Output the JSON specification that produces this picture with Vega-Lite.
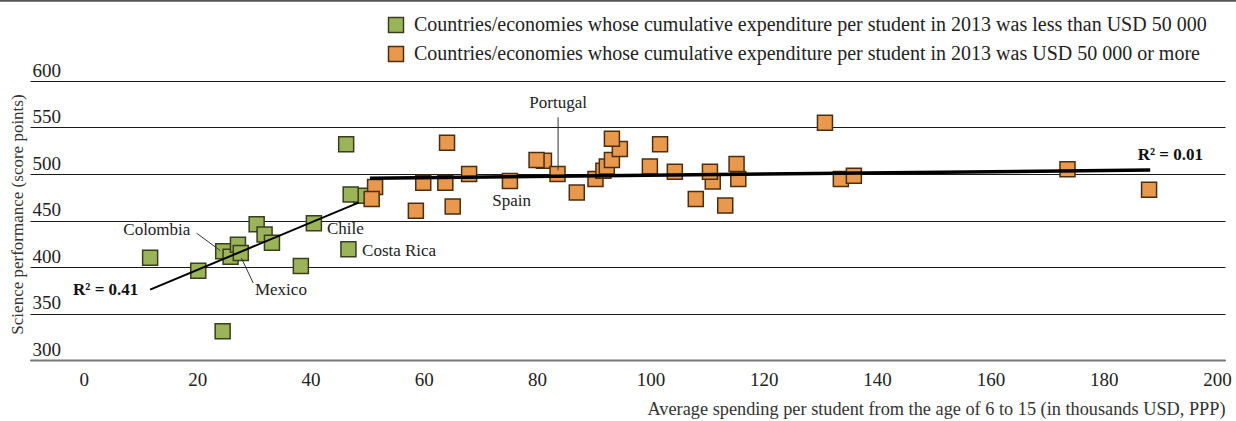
{
  "$schema": "https://vega.github.io/schema/vega-lite/v6.json",
  "width": 1195,
  "height": 279,
  "autosize": {"type": "none"},
  "padding": {"left": 30, "top": 81, "right": 11, "bottom": 61},
  "background": "white",
  "config": {
    "font": "Liberation Serif",
    "view": {"stroke": null}
  },
  "datasets": {
    "points": [
      {"spend": 11.7, "score": 410, "group": "Countries/economies whose cumulative expenditure per student in 2013 was less than USD 50 000"},
      {"spend": 20.2, "score": 396, "group": "Countries/economies whose cumulative expenditure per student in 2013 was less than USD 50 000"},
      {"spend": 24.5, "score": 331, "group": "Countries/economies whose cumulative expenditure per student in 2013 was less than USD 50 000"},
      {"spend": 24.6, "score": 417, "group": "Countries/economies whose cumulative expenditure per student in 2013 was less than USD 50 000"},
      {"spend": 25.9, "score": 411, "group": "Countries/economies whose cumulative expenditure per student in 2013 was less than USD 50 000"},
      {"spend": 27.2, "score": 424, "group": "Countries/economies whose cumulative expenditure per student in 2013 was less than USD 50 000"},
      {"spend": 27.7, "score": 415, "group": "Countries/economies whose cumulative expenditure per student in 2013 was less than USD 50 000"},
      {"spend": 30.5, "score": 446, "group": "Countries/economies whose cumulative expenditure per student in 2013 was less than USD 50 000"},
      {"spend": 31.9, "score": 435, "group": "Countries/economies whose cumulative expenditure per student in 2013 was less than USD 50 000"},
      {"spend": 33.2, "score": 426, "group": "Countries/economies whose cumulative expenditure per student in 2013 was less than USD 50 000"},
      {"spend": 38.3, "score": 401, "group": "Countries/economies whose cumulative expenditure per student in 2013 was less than USD 50 000"},
      {"spend": 40.6, "score": 447, "group": "Countries/economies whose cumulative expenditure per student in 2013 was less than USD 50 000"},
      {"spend": 46.3, "score": 532, "group": "Countries/economies whose cumulative expenditure per student in 2013 was less than USD 50 000"},
      {"spend": 46.7, "score": 419, "group": "Countries/economies whose cumulative expenditure per student in 2013 was less than USD 50 000"},
      {"spend": 49.0, "score": 476.5, "group": "Countries/economies whose cumulative expenditure per student in 2013 was less than USD 50 000"},
      {"spend": 47.1, "score": 478, "group": "Countries/economies whose cumulative expenditure per student in 2013 was less than USD 50 000"},
      {"spend": 51.4, "score": 486, "group": "Countries/economies whose cumulative expenditure per student in 2013 was USD 50 000 or more"},
      {"spend": 50.8, "score": 473, "group": "Countries/economies whose cumulative expenditure per student in 2013 was USD 50 000 or more"},
      {"spend": 64.1, "score": 533.5, "group": "Countries/economies whose cumulative expenditure per student in 2013 was USD 50 000 or more"},
      {"spend": 59.9, "score": 490.5, "group": "Countries/economies whose cumulative expenditure per student in 2013 was USD 50 000 or more"},
      {"spend": 63.8, "score": 490.5, "group": "Countries/economies whose cumulative expenditure per student in 2013 was USD 50 000 or more"},
      {"spend": 58.6, "score": 460.5, "group": "Countries/economies whose cumulative expenditure per student in 2013 was USD 50 000 or more"},
      {"spend": 65.1, "score": 465, "group": "Countries/economies whose cumulative expenditure per student in 2013 was USD 50 000 or more"},
      {"spend": 68.0, "score": 500, "group": "Countries/economies whose cumulative expenditure per student in 2013 was USD 50 000 or more"},
      {"spend": 75.2, "score": 492.5, "group": "Countries/economies whose cumulative expenditure per student in 2013 was USD 50 000 or more"},
      {"spend": 81.2, "score": 514.3, "group": "Countries/economies whose cumulative expenditure per student in 2013 was USD 50 000 or more"},
      {"spend": 79.9, "score": 515, "group": "Countries/economies whose cumulative expenditure per student in 2013 was USD 50 000 or more"},
      {"spend": 83.6, "score": 500, "group": "Countries/economies whose cumulative expenditure per student in 2013 was USD 50 000 or more"},
      {"spend": 87.0, "score": 480, "group": "Countries/economies whose cumulative expenditure per student in 2013 was USD 50 000 or more"},
      {"spend": 90.3, "score": 494.7, "group": "Countries/economies whose cumulative expenditure per student in 2013 was USD 50 000 or more"},
      {"spend": 91.7, "score": 503.5, "group": "Countries/economies whose cumulative expenditure per student in 2013 was USD 50 000 or more"},
      {"spend": 92.3, "score": 508, "group": "Countries/economies whose cumulative expenditure per student in 2013 was USD 50 000 or more"},
      {"spend": 93.2, "score": 515, "group": "Countries/economies whose cumulative expenditure per student in 2013 was USD 50 000 or more"},
      {"spend": 94.6, "score": 527, "group": "Countries/economies whose cumulative expenditure per student in 2013 was USD 50 000 or more"},
      {"spend": 93.2, "score": 538, "group": "Countries/economies whose cumulative expenditure per student in 2013 was USD 50 000 or more"},
      {"spend": 101.7, "score": 532, "group": "Countries/economies whose cumulative expenditure per student in 2013 was USD 50 000 or more"},
      {"spend": 99.9, "score": 508, "group": "Countries/economies whose cumulative expenditure per student in 2013 was USD 50 000 or more"},
      {"spend": 104.3, "score": 502.5, "group": "Countries/economies whose cumulative expenditure per student in 2013 was USD 50 000 or more"},
      {"spend": 108.0, "score": 473, "group": "Countries/economies whose cumulative expenditure per student in 2013 was USD 50 000 or more"},
      {"spend": 111.0, "score": 492, "group": "Countries/economies whose cumulative expenditure per student in 2013 was USD 50 000 or more"},
      {"spend": 110.5, "score": 502.5, "group": "Countries/economies whose cumulative expenditure per student in 2013 was USD 50 000 or more"},
      {"spend": 113.2, "score": 466, "group": "Countries/economies whose cumulative expenditure per student in 2013 was USD 50 000 or more"},
      {"spend": 115.5, "score": 494.7, "group": "Countries/economies whose cumulative expenditure per student in 2013 was USD 50 000 or more"},
      {"spend": 115.2, "score": 510.7, "group": "Countries/economies whose cumulative expenditure per student in 2013 was USD 50 000 or more"},
      {"spend": 130.8, "score": 555, "group": "Countries/economies whose cumulative expenditure per student in 2013 was USD 50 000 or more"},
      {"spend": 133.6, "score": 494.7, "group": "Countries/economies whose cumulative expenditure per student in 2013 was USD 50 000 or more"},
      {"spend": 135.9, "score": 498, "group": "Countries/economies whose cumulative expenditure per student in 2013 was USD 50 000 or more"},
      {"spend": 173.6, "score": 505, "group": "Countries/economies whose cumulative expenditure per student in 2013 was USD 50 000 or more"},
      {"spend": 188.0, "score": 483, "group": "Countries/economies whose cumulative expenditure per student in 2013 was USD 50 000 or more"}
    ],
    "trends": [
      {"line": "low", "spend": 11.7, "score": 375.7},
      {"line": "low", "spend": 48.5, "score": 469.3},
      {"line": "high", "spend": 50.5, "score": 495.4},
      {"line": "high", "spend": 188.2, "score": 504.3}
    ],
    "leaders": [
      {"x": 83.7, "y": 561, "x2": 83.7, "y2": 504},
      {"x": 19.9, "y": 436.4, "x2": 24.1, "y2": 417.5},
      {"x": 29.9, "y": 382.8, "x2": 27.8, "y2": 409.6}
    ],
    "labelsCenter": [
      {"x": 83.7, "y": 576, "text": "Portugal"},
      {"x": 75.5, "y": 471, "text": "Spain"}
    ],
    "labelsRight": [
      {"x": 18.8, "y": 439.3, "text": "Colombia"}
    ],
    "labelsLeft": [
      {"x": 42.9, "y": 440.7, "text": "Chile"},
      {"x": 49.1, "y": 417.5, "text": "Costa Rica"},
      {"x": 30.2, "y": 375.6, "text": "Mexico"}
    ],
    "r2": [
      {"x": -1.9, "y": 375.6, "text": "R² = 0.41"},
      {"x": 186.0, "y": 520.4, "text": "R² = 0.01"}
    ],
    "frame": [
      {"x": -14.8, "x2": 203.4, "y": 686.5}
    ]
  },
  "layer": [
    {
      "data": {"name": "points"},
      "mark": {"type": "square", "size": 225, "strokeWidth": 1.5, "opacity": 1},
      "encoding": {
        "x": {
          "field": "spend", "type": "quantitative",
          "scale": {"domain": [-9.5, 201.4], "nice": false, "zero": false},
          "axis": {
            "values": [0, 20, 40, 60, 80, 100, 120, 140, 160, 180, 200],
            "title": "Average spending per student from the age of 6 to 15 (in thousands USD,  PPP)",
            "titleFont": "Liberation Serif", "titleFontSize": 18.3, "titleFontWeight": "normal",
            "titleColor": "#333333", "titleAnchor": "end", "titlePadding": 11,
            "labelFont": "Liberation Serif", "labelFontSize": 19, "labelColor": "#222222",
            "labelPadding": 10, "ticks": false, "grid": false,
            "domain": true, "domainColor": "#777777", "domainWidth": 2
          }
        },
        "y": {
          "field": "score", "type": "quantitative",
          "scale": {"domain": [300, 600], "nice": false, "zero": false},
          "axis": {
            "values": [300, 350, 400, 450, 500, 550, 600],
            "title": "Science performance (score points)",
            "titleFont": "Liberation Serif", "titleFontSize": 17, "titleFontWeight": "normal",
            "titleColor": "#333333", "titleX": -13, "titleY": 133, "titleAlign": "center",
            "titleBaseline": "middle", "titleAngle": -90,
            "labelFont": "Liberation Serif", "labelFontSize": 19, "labelColor": "#222222",
            "labelAlign": "left", "labelBaseline": "alphabetic", "labelOffset": -5,
            "labelPadding": -2, "ticks": false, "tickSize": 0, "domain": false,
            "grid": true, "gridColor": "#1a1a1a", "gridWidth": 1.2, "gridOpacity": 1
          }
        },
        "fill": {
          "field": "group", "type": "nominal",
          "scale": {
            "domain": [
              "Countries/economies whose cumulative expenditure per student in 2013 was less than USD 50 000",
              "Countries/economies whose cumulative expenditure per student in 2013 was USD 50 000 or more"
            ],
            "range": ["#9BB45A", "#E8994E"]
          },
          "legend": {
            "orient": "none", "legendX": 356, "legendY": -66, "title": null,
            "labelFont": "Liberation Serif", "labelFontSize": 20, "labelColor": "#222222",
            "symbolType": "square", "symbolSize": 225, "symbolStrokeWidth": 1.5,
            "rowPadding": 7, "labelOffset": 8, "labelLimit": 1000
          }
        },
        "stroke": {
          "field": "group", "type": "nominal",
          "scale": {
            "domain": [
              "Countries/economies whose cumulative expenditure per student in 2013 was less than USD 50 000",
              "Countries/economies whose cumulative expenditure per student in 2013 was USD 50 000 or more"
            ],
            "range": ["#3a3d1e", "#4a2e12"]
          },
          "legend": null
        }
      }
    },
    {
      "data": {"name": "trends"},
      "mark": {"type": "line", "color": "#000000"},
      "encoding": {
        "x": {"field": "spend", "type": "quantitative"},
        "y": {"field": "score", "type": "quantitative"},
        "detail": {"field": "line"},
        "strokeWidth": {
          "field": "line", "type": "nominal",
          "scale": {"domain": ["low", "high"], "range": [2, 3.5]},
          "legend": null
        }
      }
    },
    {
      "data": {"name": "leaders"},
      "mark": {"type": "rule", "color": "#333333", "strokeWidth": 1},
      "encoding": {
        "x": {"field": "x", "type": "quantitative"},
        "y": {"field": "y", "type": "quantitative"},
        "x2": {"field": "x2"},
        "y2": {"field": "y2"}
      }
    },
    {
      "data": {"name": "labelsCenter"},
      "mark": {"type": "text", "font": "Liberation Serif", "fontSize": 17, "color": "#222222", "align": "center", "baseline": "middle"},
      "encoding": {
        "x": {"field": "x", "type": "quantitative"},
        "y": {"field": "y", "type": "quantitative"},
        "text": {"field": "text"}
      }
    },
    {
      "data": {"name": "labelsRight"},
      "mark": {"type": "text", "font": "Liberation Serif", "fontSize": 17, "color": "#222222", "align": "right", "baseline": "middle"},
      "encoding": {
        "x": {"field": "x", "type": "quantitative"},
        "y": {"field": "y", "type": "quantitative"},
        "text": {"field": "text"}
      }
    },
    {
      "data": {"name": "labelsLeft"},
      "mark": {"type": "text", "font": "Liberation Serif", "fontSize": 17, "color": "#222222", "align": "left", "baseline": "middle"},
      "encoding": {
        "x": {"field": "x", "type": "quantitative"},
        "y": {"field": "y", "type": "quantitative"},
        "text": {"field": "text"}
      }
    },
    {
      "data": {"name": "r2"},
      "mark": {"type": "text", "font": "Liberation Serif", "fontSize": 17, "fontWeight": "bold", "color": "#111111", "align": "left", "baseline": "middle"},
      "encoding": {
        "x": {"field": "x", "type": "quantitative"},
        "y": {"field": "y", "type": "quantitative"},
        "text": {"field": "text"}
      }
    },
    {
      "data": {"name": "frame"},
      "mark": {"type": "rule", "color": "#555555", "strokeWidth": 2.5, "clip": false},
      "encoding": {
        "x": {"field": "x", "type": "quantitative"},
        "x2": {"field": "x2"},
        "y": {"field": "y", "type": "quantitative"}
      }
    }
  ]
}
